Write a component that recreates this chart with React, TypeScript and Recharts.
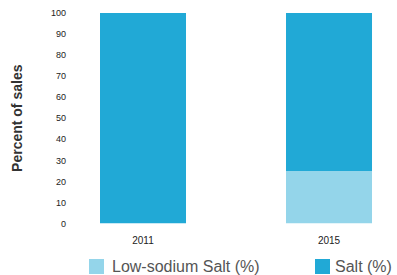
import { BarChart, Bar, XAxis, YAxis, Label } from "recharts";

const years = ["2011", "2015"];
const lowSodium = [0, 25];
const salt = [100, 75.5];
const yTicks = [0, 10, 20, 30, 40, 50, 60, 70, 80, 90, 100];
const seriesNames = ["Low-sodium Salt (%)", "Salt (%)"];
const seriesColors = ["#94d5ea", "#21a9d6"];

const data = years.map((y, i) => ({
  year: Number(y),
  low: lowSodium[i],
  salt: salt[i],
}));

const font = "'Liberation Sans', Arial, sans-serif";

export default function App() {
  return (
    <div style={{ position: "absolute", left: 0, top: 0, width: 397, height: 275, background: "#fff", fontFamily: font }}>
      <BarChart
        width={397}
        height={275}
        data={data}
        margin={{ top: 13, right: 0, left: 0, bottom: 31.5 }}
      >
        <XAxis
          dataKey="year"
          type="number"
          domain={[2009.516, 2016.462]}
          ticks={[2011, 2015]}
          tickFormatter={(v) => String(v)}
          axisLine={false}
          tickLine={false}
          tickSize={0}
          tickMargin={13}
          height={20}
          tick={{ fill: "#222", fontSize: 10, fontFamily: font }}
          allowDataOverflow
        />
        <YAxis
          domain={[0, 100]}
          ticks={yTicks}
          allowDataOverflow
          axisLine={false}
          tickLine={false}
          tickSize={0}
          tickMargin={8}
          width={74}
          interval={0}
          tick={{ fill: "#222", fontSize: 9, fontFamily: font }}
        >
          <Label
            value="Percent of sales"
            angle={-90}
            position="insideLeft"
            offset={17}
            style={{ textAnchor: "middle", fontSize: 14, fontWeight: 700, fill: "#333", fontFamily: font }}
          />
        </YAxis>
        <Bar dataKey="low" stackId="a" fill={seriesColors[0]} barSize={86} isAnimationActive={false} />
        <Bar dataKey="salt" stackId="a" fill={seriesColors[1]} barSize={86} isAnimationActive={false} />
      </BarChart>
      <div style={{ position: "absolute", top: 259, left: 0, height: 15, width: 397 }}>
        <div style={{ position: "absolute", left: 89, top: 0, width: 15, height: 15, background: seriesColors[0] }} />
        <div style={{ position: "absolute", left: 112, top: -2, fontSize: 16, lineHeight: "19px", color: "#555", whiteSpace: "nowrap" }}>
          {seriesNames[0]}
        </div>
        <div style={{ position: "absolute", left: 315, top: 0, width: 15, height: 15, background: seriesColors[1] }} />
        <div style={{ position: "absolute", left: 335, top: -2, fontSize: 16, lineHeight: "19px", color: "#555", whiteSpace: "nowrap" }}>
          {seriesNames[1]}
        </div>
      </div>
    </div>
  );
}
